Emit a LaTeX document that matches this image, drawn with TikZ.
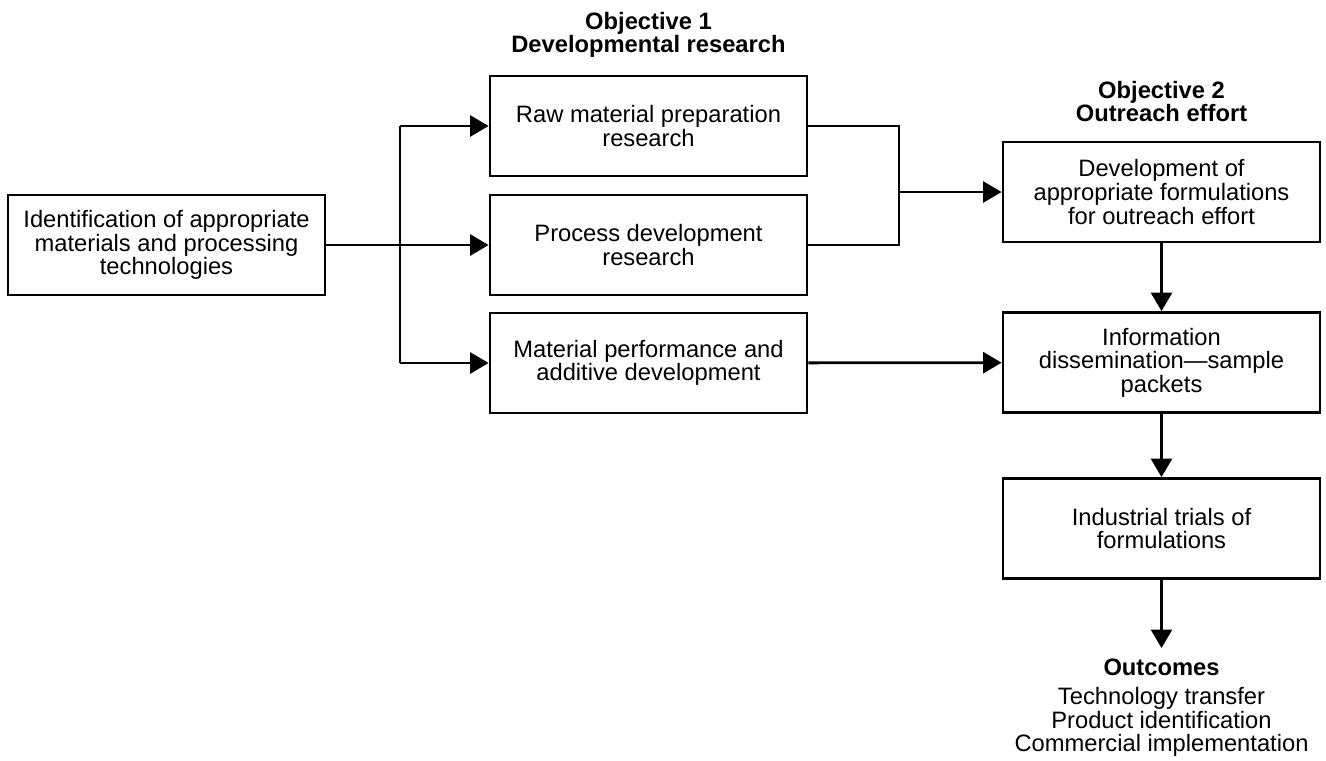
\documentclass[tikz,border=0pt]{standalone}
\usepackage{fontspec}
\setmainfont{Liberation Sans}
\usetikzlibrary{arrows.meta}

\newcommand{\boxfont}{\fontsize{13.5}{13.4}\selectfont}

\begin{document}
\begin{tikzpicture}[
    box/.style={draw,line width=1.6pt,minimum width=6.34cm,minimum height=2cm,align=center,inner sep=2pt,font=\boxfont},
    head/.style={align=center,font=\boxfont\bfseries},
    plain/.style={align=center,font=\boxfont,inner sep=0pt},
    wire/.style={line width=1.6pt},
    link/.style={line width=1.6pt,-{Triangle[length=0.37cm,width=0.42cm]}}]
      \useasboundingbox (0,0) rectangle (26.52,-15.2);

      % headings
      \node (obj1) at (12.97,-0.7) [head] {Objective 1\\Developmental research};
      \node (obj2) at (23.23,-2.03) [head] {Objective 2\\Outreach effort};

      % boxes
      \node (ident) at (3.33,-4.9) [box] {Identification of appropriate\\materials and processing\\technologies};
      \node (raw) at (12.97,-2.52) [box] {Raw material preparation\\research};
      \node (process) at (12.97,-4.9) [box] {Process development\\research};
      \node (material) at (12.97,-7.26) [box] {Material performance and\\additive development};
      \node (develop) at (23.23,-3.84) [box] {Development of\\appropriate formulations\\for outreach effort};
      \node (info) at (23.23,-7.25) [box] {Information\\dissemination---sample\\packets};
      \node (trials) at (23.23,-10.57) [box] {Industrial trials of\\formulations};

      % outcomes
      \node (outc) at (23.23,-13.34) [head] {Outcomes};
      \node (outlist) at (23.23,-14.44) [plain] {Technology transfer\\Product identification\\Commercial implementation};

      \coordinate (split) at (8,-4.9);
      \coordinate (merge) at (17.98,-3.84);

      \draw[link] (ident) -- (process);
      \draw[wire] (split |- raw) -- (split |- material);
      \draw[link] (split |- raw) -- (raw);
      \draw[link] (split |- material) -- (material);

      \draw[wire] (raw.east) -| (merge) |- (process.east);
      \draw[link] (merge) -- (develop);
      \draw[link] (material) -- (info);

      \draw[link] (develop) -- (info);
      \draw[link] (info) -- (trials);
      \draw[link] (trials.south) -- (23.23,-12.96);
    \end{tikzpicture}
\end{document}
